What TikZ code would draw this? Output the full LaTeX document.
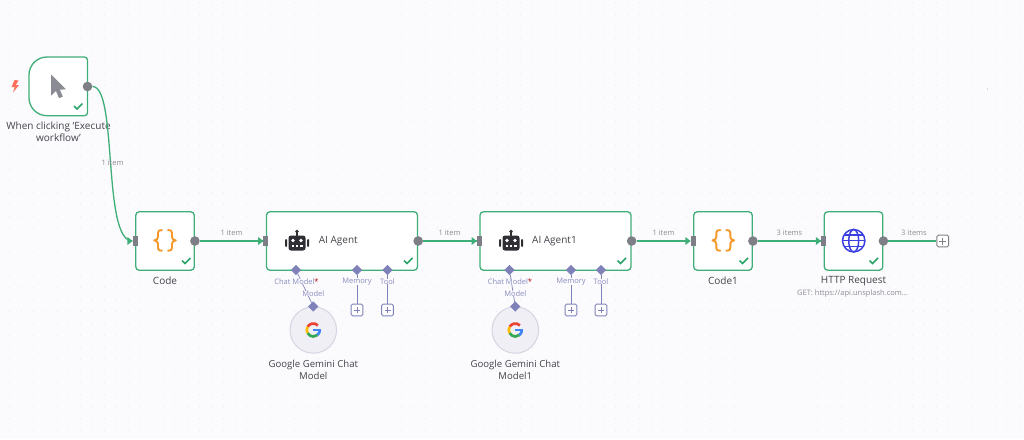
\documentclass[tikz,border=0pt]{standalone}
\usepackage{fontspec}
\setmainfont{Open Sans}
\usetikzlibrary{arrows.meta,calc,shapes.geometric}
\definecolor{bgc}{HTML}{FBFBFE}
\definecolor{dotc}{HTML}{E4E4EA}
\definecolor{grn}{HTML}{3FAE78}
\definecolor{chk}{HTML}{2AA568}
\definecolor{port}{HTML}{7E7E86}
\definecolor{lilac}{HTML}{7F82B8}
\definecolor{lilact}{HTML}{8A8CBE}
\definecolor{txt}{HTML}{42424A}
\definecolor{lbl}{HTML}{8C8C94}
\definecolor{orng}{HTML}{F7982A}
\definecolor{iconG}{HTML}{8B8B93}
\definecolor{robot}{HTML}{2E2E33}
\definecolor{globe}{HTML}{3B3FE0}
\definecolor{bolt}{HTML}{FF6F5C}
\definecolor{gemfill}{HTML}{EFEFF5}
\definecolor{gemline}{HTML}{D5D5E2}
\definecolor{gr}{HTML}{EA4335}
\definecolor{gy}{HTML}{FBBC05}
\definecolor{gg}{HTML}{34A853}
\definecolor{gb}{HTML}{4285F4}
\tikzset{
 x=1pt,y=-1pt,
 nodebox/.style={draw=grn,line width=1.3pt,fill=white,rounded corners=3.5pt},
 flow/.style={draw=grn,line width=1.3pt},
 outport/.style={circle,fill=port,inner sep=0pt,minimum size=9.6pt},
 inport/.style={fill=port,inner sep=0pt,minimum width=5pt,minimum height=10pt},
 tip/.style={fill=grn,draw=none},
 dia/.style={diamond,fill=lilac,inner sep=0pt,minimum size=10.5pt},
 plusbox/.style={draw=lilac,line width=.9pt,fill=white,rounded corners=1.5pt,minimum size=11.8pt,inner sep=0pt},
 nm/.style={text=txt,font=\fontsize{10}{12}\selectfont,align=center,inner sep=0pt},
 gemname/.style={text=txt,font=\fontsize{9.6}{12}\selectfont,align=center,inner sep=0pt},
 count/.style={text=lbl,font=\fontsize{7.5}{9}\selectfont,inner sep=0pt},
 sub/.style={text=lilact,font=\fontsize{7.5}{9}\selectfont,inner sep=0pt},
 lil/.style={draw=lilac,line width=.9pt},
 chkm/.style={draw=chk,line width=1.5pt},
}
\newcommand{\checkat}[2]{\draw[chkm] (#1-4.5,#2-.5) -- (#1-1.5,#2+2.5) -- (#1+4,#2-3);}
\newcommand{\bracesat}[2]{
 \begin{scope}[shift={(#1,#2)},draw=orng,line width=1.9pt,line cap=round,line join=round]
  \draw (-3,-10.3) .. controls (-5.8,-10.3) and (-7,-10) .. (-7,-7.5) -- (-7,-3.5) .. controls (-7,-1.5) and (-8.5,-.2) .. (-10.8,0)
        .. controls (-8.5,.2) and (-7,1.5) .. (-7,3.5) -- (-7,7.5) .. controls (-7,10) and (-5.8,10.3) .. (-3,10.3);
  \draw (3,-10.3) .. controls (5.8,-10.3) and (7,-10) .. (7,-7.5) -- (7,-3.5) .. controls (7,-1.5) and (8.5,-.2) .. (10.8,0)
        .. controls (8.5,.2) and (7,1.5) .. (7,3.5) -- (7,7.5) .. controls (7,10) and (5.8,10.3) .. (3,10.3);
 \end{scope}}
\newcommand{\robotat}[2]{
 \begin{scope}[shift={(#1,#2)}]
  \fill[robot,rounded corners=2.5pt] (-8.5,-5.5) rectangle (8.5,9.5);
  \fill[robot] (-1,-9.5) rectangle (1,-5.5);
  \fill[robot] (0,-9.5) circle (1.8);
  \fill[robot,rounded corners=1pt] (-12,-2) rectangle (-10,6);
  \fill[robot,rounded corners=1pt] (10,-2) rectangle (12,6);
  \fill[white] (-4,-.5) circle (1.8);
  \fill[white] (4,-.5) circle (1.8);
  \fill[white] (-5.5,4) rectangle (-3,5.5);
  \fill[white] (-1.2,4) rectangle (1.2,5.5);
  \fill[white] (3,4) rectangle (5.5,5.5);
 \end{scope}}
\newcommand{\googleat}[2]{
 \begin{scope}[shift={(#1,#2)},line width=2.7pt]
  \draw[color=gr] (4.6,-4.6) arc[start angle=-45,end angle=-150,radius=6.5];
  \draw[color=gy] (-5.63,-3.25) arc[start angle=-150,end angle=-210,radius=6.5];
  \draw[color=gg] (-5.63,3.25) arc[start angle=-210,end angle=-310,radius=6.5];
  \draw[color=gb] (4.18,4.98) arc[start angle=-310,end angle=-360,radius=6.5];
  \fill[color=gb] (0,-1.3) rectangle (7.8,1.4);
 \end{scope}}
\begin{document}
\begin{tikzpicture}
\useasboundingbox (0,0) rectangle (1024,439);
\fill[bgc] (0,0) rectangle (1024,439);
% dotted canvas
\foreach \i in {0,...,85}{\foreach \j in {0,...,36}{
  \fill[dotc] (9.4+11.885*\i,2.46+11.885*\j) circle (.5);}}
\fill[black!50!blue!60] (987.5,89) circle (.45);

% trigger
\coordinate (trg) at (87.5,86.5);
\path[draw=grn,line width=1.3pt,fill=white] (47,57) -- (84.5,57) arc[start angle=270,end angle=360,radius=3]
  -- (87.5,112.7) arc[start angle=0,end angle=90,radius=3] -- (47,115.7)
  arc[start angle=90,end angle=180,radius=18] -- (29,75)
  arc[start angle=180,end angle=270,radius=18] -- cycle;
\fill[iconG] (51.2,74.5) -- (51.2,95.5) -- (56,91) -- (59,98.2) -- (62.8,96.6) -- (59.8,89.6) -- (66,89.4) -- cycle;
\fill[bolt] (14.5,80) -- (11.5,87) -- (14.8,87) -- (13,92.5) -- (19,85) -- (15.8,85) -- (18.5,80.5) -- cycle;
\checkat{78.5}{106.5}
\node[nm] at (58.5,132) {When clicking ‘Execute\\workflow’};

% nodes
\node[nodebox,minimum width=58.5pt,minimum height=58.5pt,inner sep=0pt] (code) at (165,241) {};
\node[nodebox,minimum width=151pt,minimum height=58.5pt,inner sep=0pt] (agent) at (342,241) {};
\node[nodebox,minimum width=151pt,minimum height=58.5pt,inner sep=0pt] (agentb) at (555.5,241) {};
\node[nodebox,minimum width=58.5pt,minimum height=58.5pt,inner sep=0pt] (codeb) at (723,241) {};
\node[nodebox,minimum width=58.5pt,minimum height=58.5pt,inner sep=0pt] (http) at (853.5,241) {};

% ports
\node[outport] (ot) at (trg) {};
\node[inport] (ic) at (code.west) {};
\node[outport] (oc) at (code.east) {};
\node[inport] (ia) at (agent.west) {};
\node[outport] (oa) at (agent.east) {};
\node[inport] (ib) at (agentb.west) {};
\node[outport] (ob) at (agentb.east) {};
\node[inport] (icb) at (codeb.west) {};
\node[outport] (ocb) at (codeb.east) {};
\node[inport] (ih) at (http.west) {};
\node[outport] (oh) at (http.east) {};
\node[draw=port,line width=.9pt,fill=white,rounded corners=1.5pt,minimum size=11.8pt,inner sep=0pt] (endp) at (942.7,241) {};
\draw[port,line width=.8pt] (939.2,241) -- (946.2,241) (942.7,237.5) -- (942.7,244.5);

% flows
\path[flow] (ot.east) .. controls (118,86.5) and (102,241) .. (ic.west);
\foreach \a/\b in {oc/ia,oa/ib,ob/icb,ocb/ih}{
  \path[flow] (\a.east) -- (\b.west);}
\path[flow] (oh.east) -- (endp.west);
\foreach \b in {ic,ia,ib,icb,ih}{
  \fill[tip] ($(\b.west)+(-5,-4)$) -- ($(\b.west)+(.2,0)$) -- ($(\b.west)+(-5,4)$) -- cycle;}

% counts
\node[count] at (112.5,163) {1 item};
\node[count] at (231.5,233) {1 item};
\node[count] at (449.5,233) {1 item};
\node[count] at (663.5,233) {1 item};
\node[count] at (789.5,233) {3 items};
\node[count] at (914,233) {3 items};

% icons
\bracesat{165}{240.4}
\bracesat{723.3}{240.4}
\robotat{297}{241}
\robotat{511}{241}
\begin{scope}[draw=globe,line width=1.5pt]
  \draw (853.7,240.7) circle (11.2);
  \draw (853.7,240.7) ellipse (5 and 11.2);
  \draw (842.5,240.7) -- (864.9,240.7);
  \draw (844.4,235) -- (863,235) (844.4,246.4) -- (863,246.4);
\end{scope}
\checkat{186.5}{261}
\checkat{408.5}{261}
\checkat{622}{261}
\checkat{744}{261}
\checkat{874}{261}

% names
\node[nm] at (165,281) {Code};
\node[nm,anchor=west] at (318.7,241) {AI Agent};
\node[nm,anchor=west] at (532,241) {AI Agent1};
\node[nm] at (723,281) {Code1};
\node[nm] at (853.5,281) {HTTP Request};
\node[text=lbl,font=\fontsize{7.5}{9}\selectfont,inner sep=0pt] at (852.5,294) {GET: https://api.unsplash.com...};

% sub ports
\foreach \xa/\xb/\xc/\xg/\nA/\mdl in {296/357/387.5/313.3/a/Model,509.5/571/601/515.3/c/Model1}{
  \node[dia] (cm\nA) at (\xa,270) {};
  \node[dia] (mem\nA) at (\xb,270) {};
  \node[dia] (tl\nA) at (\xc,270) {};
  \node[plusbox] (pm\nA) at (\xb,310) {};
  \node[plusbox] (pt\nA) at (\xc,310) {};
  \draw[lil] (mem\nA) -- (pm\nA);
  \draw[lil] (tl\nA) -- (pt\nA);
  \draw[lilac,line width=.8pt] (\xb-3,310) -- (\xb+3,310) (\xb,307) -- (\xb,313);
  \draw[lilac,line width=.8pt] (\xc-3,310) -- (\xc+3,310) (\xc,307) -- (\xc,313);
  \node[circle,draw=gemline,line width=1pt,fill=gemfill,minimum size=46.5pt,inner sep=0pt] (gem\nA) at (\xg,330) {};
  \node[dia] (gd\nA) at (\xg,306.5) {};
  \draw[lil,line width=.7pt] (cm\nA) -- (gd\nA);
  \node[sub,fill=bgc] at (\xb,281.5) {Memory};
  \node[sub,fill=bgc] at (\xc,281.5) {Tool};
  \node[sub,fill=bgc] at (\xa+.5,281.5) {Chat Model\textcolor{red!70!black}{*}};
  \node[sub,fill=bgc,inner xsep=1pt] at (\xg,293.5) {Model};
  \googleat{\xg}{330}
  \node[gemname] at (\xg,369.7) {Google Gemini Chat\\\mdl};
}
\end{tikzpicture}
\end{document}
